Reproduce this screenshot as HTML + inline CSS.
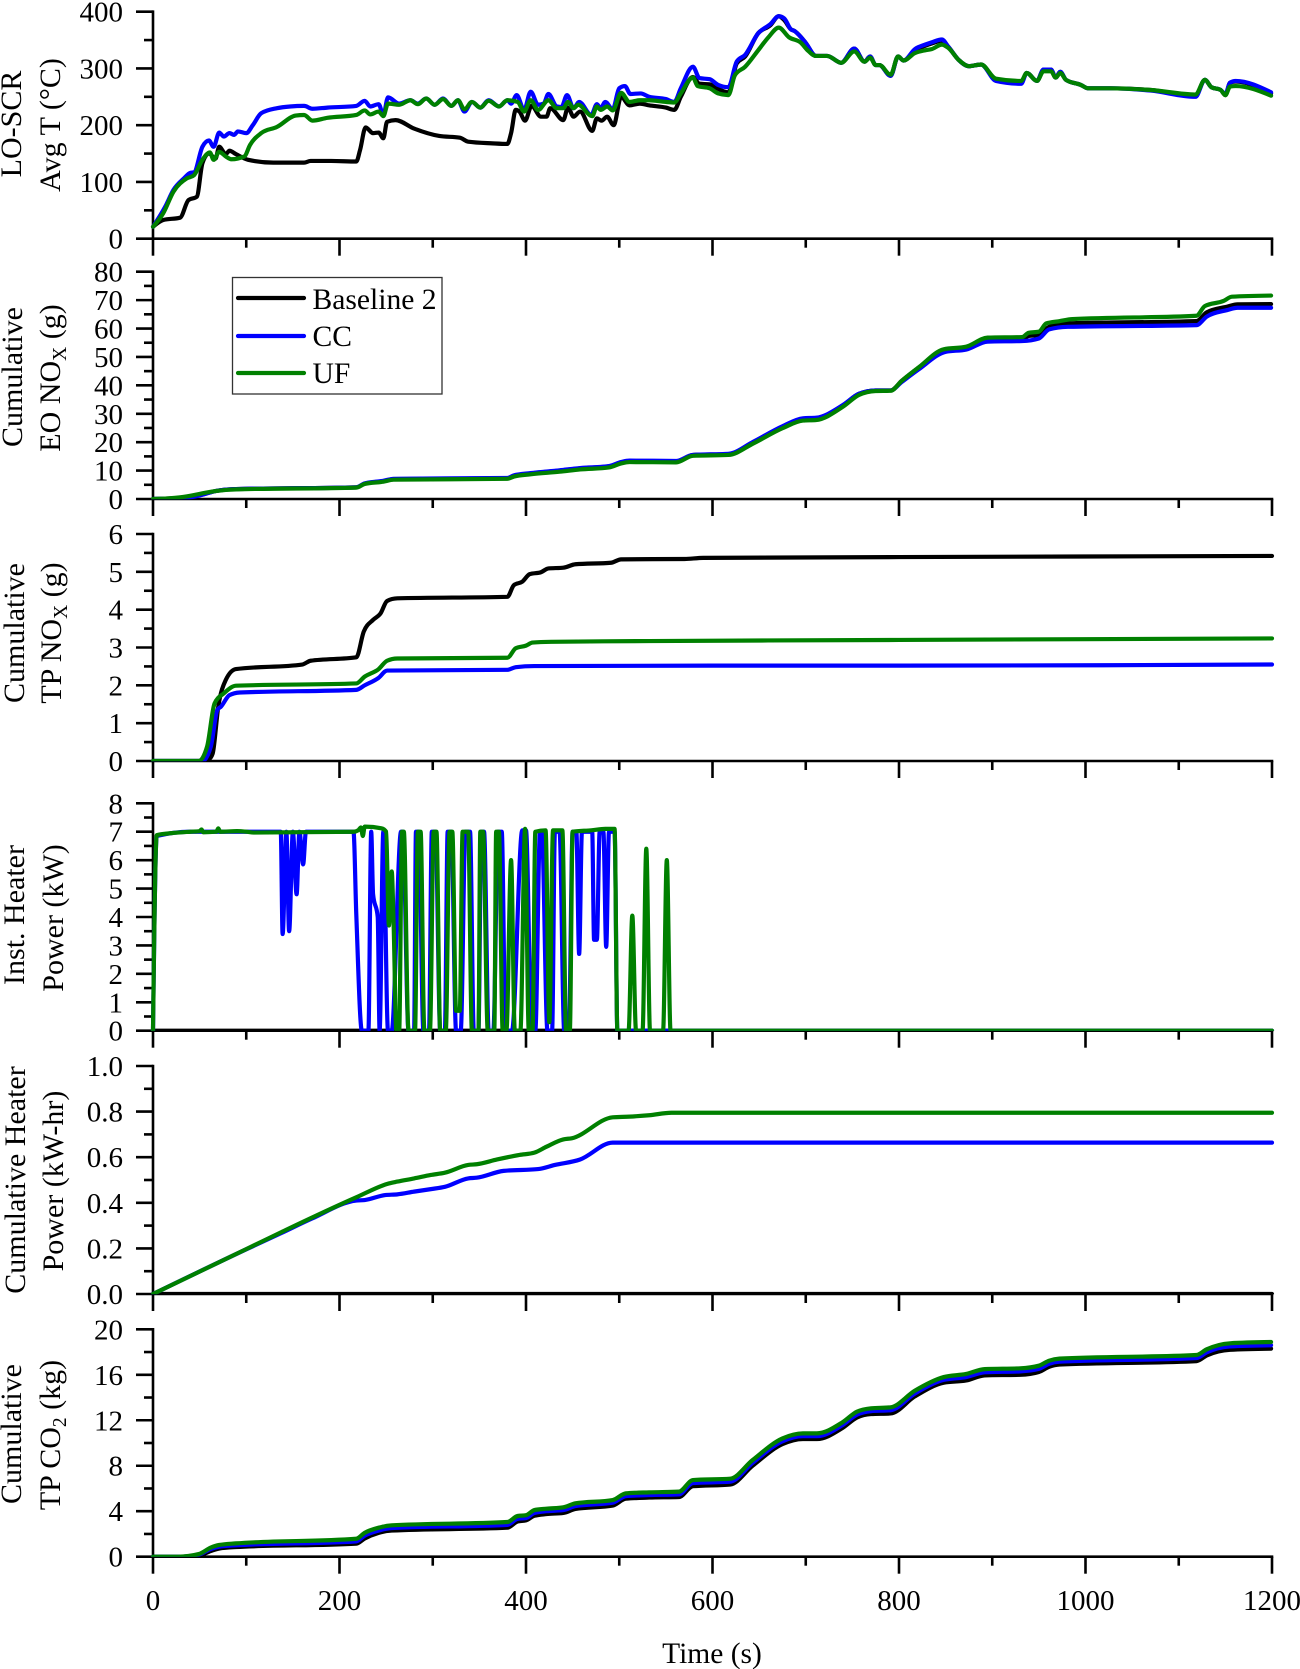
<!DOCTYPE html>
<html lang="en">
<head>
<meta charset="utf-8">
<title>Cumulative emissions and heater power over time</title>
<style>
html,body{margin:0;padding:0;background:#fff;}
svg{display:block;}
text{font-family:"Liberation Serif",serif;font-size:29px;fill:#000;}
g.titles text{font-size:30px;}
g.legend text{font-size:29.6px;}
</style>
</head>
<body>
<svg id="chart" xmlns="http://www.w3.org/2000/svg" width="1300" height="1669" viewBox="0 0 1300 1669">
  <rect x="0" y="0" width="1300" height="1669" fill="#fff"/>
  <defs id="clips"></defs>
  <g id="panels"></g>

  <g class="titles">
    <text text-anchor="middle" transform="translate(21 124) rotate(-90)">LO-SCR</text>
    <text text-anchor="middle" transform="translate(60 125) rotate(-90)">Avg T (°C)</text>
    <text text-anchor="middle" transform="translate(22 377) rotate(-90)">Cumulative</text>
    <text text-anchor="middle" transform="translate(60 378) rotate(-90)">EO NO<tspan style="font-size:19.5px" dy="6">X</tspan><tspan dy="-6"> (g)</tspan></text>
    <text text-anchor="middle" transform="translate(24 633) rotate(-90)">Cumulative</text>
    <text text-anchor="middle" transform="translate(61 633) rotate(-90)">TP NO<tspan style="font-size:19.5px" dy="6">X</tspan><tspan dy="-6"> (g)</tspan></text>
    <text text-anchor="middle" transform="translate(24 915) rotate(-90)">Inst. Heater</text>
    <text text-anchor="middle" transform="translate(63 918) rotate(-90)">Power (kW)</text>
    <text text-anchor="middle" transform="translate(25 1180) rotate(-90)">Cumulative Heater</text>
    <text text-anchor="middle" transform="translate(63 1181) rotate(-90)">Power (kW-hr)</text>
    <text text-anchor="middle" transform="translate(21 1434) rotate(-90)">Cumulative</text>
    <text text-anchor="middle" transform="translate(60 1435) rotate(-90)">TP CO<tspan style="font-size:19.5px" dy="6">2</tspan><tspan dy="-6"> (kg)</tspan></text>
  </g>

  <text x="712" y="1663" text-anchor="middle" style="font-size:29.5px">Time (s)</text>

  <g class="legend">
    <rect x="232.5" y="277.5" width="209.5" height="116.5" fill="#fff" stroke="#333" stroke-width="1.3"/>
    <line x1="238" y1="298" x2="304" y2="298" stroke="#000" stroke-width="4.2" stroke-linecap="round"/>
    <text x="312.5" y="309">Baseline 2</text>
    <line x1="238" y1="336" x2="304" y2="336" stroke="#0000ff" stroke-width="4.2" stroke-linecap="round"/>
    <text x="312.5" y="346">CC</text>
    <line x1="238" y1="373" x2="304" y2="373" stroke="#008000" stroke-width="4.2" stroke-linecap="round"/>
    <text x="312.5" y="383">UF</text>
  </g>
</svg>

<script>
// ---- shared axis values ----
const timeTicksMajor = [0, 200, 400, 600, 800, 1000, 1200];
const timeTicksMinor = [100, 300, 500, 700, 900, 1100];
const timeDomain = [0, 1200];

// ---- LO-SCR average temperature (deg C) : [time, value] ----
const loScrTicks = [0, 100, 200, 300, 400];
const loScrMinor = [50, 150, 250, 350];
const loScrLabels = ['0', '100', '200', '300', '400'];
const loScrBaseline = [[0,21],[11,33],[29,37],[38,68],[47,74],[53,133],[60,150],[67,141],[71,162],[78,149],[82,155],[89,149],[102,139],[129,134],[162,134],[169,137],[191,137],[218,136],[222,156],[228,196],[236,186],[242,187],[247,177],[251,206],[260,209],[280,194],[307,181],[329,178],[338,171],[364,168],[380,167],[384,186],[389,227],[393,224],[399,208],[406,234],[416,215],[422,215],[426,230],[440,209],[445,231],[451,215],[458,224],[471,190],[476,212],[481,208],[487,215],[494,200],[502,250],[511,235],[522,238],[532,235],[550,231],[559,227],[566,250],[579,285],[586,273],[597,272],[606,264],[617,258],[626,309],[635,321],[649,362],[662,376],[671,392],[677,385],[684,369],[688,366],[695,355],[700,345],[711,322],[723,322],[738,310],[752,335],[763,312],[769,321],[775,306],[779,306],[791,287],[799,321],[805,314],[817,332],[828,340],[835,344],[846,349],[853,338],[864,315],[875,304],[888,307],[904,280],[931,276],[937,292],[948,278],[955,298],[963,298],[968,284],[973,294],[979,280],[995,271],[1003,265],[1026,265],[1070,262],[1118,252],[1128,280],[1135,267],[1145,262],[1150,253],[1155,275],[1161,277],[1199,256]];
const loScrCc = [[0,21],[13,56],[22,86],[33,106],[40,116],[44,117],[53,162],[60,173],[65,162],[71,187],[76,180],[82,186],[87,183],[91,189],[100,186],[107,200],[116,221],[133,230],[147,233],[162,234],[171,229],[187,231],[218,234],[227,243],[233,233],[242,237],[247,218],[252,249],[264,238],[276,244],[284,238],[293,247],[302,236],[311,247],[320,234],[327,244],[334,224],[342,241],[351,231],[360,244],[371,233],[380,244],[384,238],[390,253],[398,227],[405,259],[413,236],[419,238],[424,255],[433,233],[438,232],[444,253],[451,230],[457,241],[470,218],[476,237],[480,230],[485,241],[493,228],[500,265],[506,269],[512,255],[523,256],[532,250],[550,246],[559,241],[566,265],[579,303],[586,283],[597,281],[606,271],[617,267],[626,312],[635,324],[649,362],[662,378],[671,392],[677,388],[684,369],[688,366],[695,355],[700,345],[711,322],[723,322],[738,310],[752,335],[763,312],[769,321],[775,306],[779,306],[791,287],[799,321],[805,314],[817,334],[828,342],[835,346],[846,351],[853,338],[864,315],[875,304],[888,307],[904,278],[931,273],[937,292],[948,278],[955,298],[963,298],[968,284],[973,294],[979,280],[995,271],[1003,265],[1026,265],[1070,261],[1118,250],[1128,280],[1135,267],[1145,262],[1150,255],[1155,275],[1161,278],[1199,258]];
const loScrUf = [[0,21],[11,45],[22,83],[36,106],[44,112],[53,139],[61,152],[65,139],[71,153],[78,145],[84,140],[98,145],[104,165],[116,186],[133,197],[153,217],[162,218],[171,208],[187,213],[218,218],[227,226],[233,219],[242,224],[247,216],[252,238],[264,236],[276,244],[284,237],[293,247],[302,236],[311,246],[320,234],[327,244],[334,228],[342,241],[351,231],[360,243],[371,233],[380,244],[391,241],[398,224],[405,244],[413,227],[424,244],[433,230],[440,230],[445,241],[451,230],[456,236],[471,216],[476,233],[480,227],[487,233],[493,226],[502,257],[511,241],[522,244],[532,244],[550,241],[559,240],[566,256],[579,284],[584,269],[597,265],[606,256],[617,253],[624,288],[635,303],[649,332],[660,355],[671,372],[682,355],[695,345],[702,332],[711,322],[723,322],[738,310],[752,330],[763,312],[769,319],[775,306],[779,306],[791,289],[799,321],[805,314],[817,327],[828,332],[835,334],[846,342],[853,336],[864,315],[875,304],[888,307],[904,282],[931,278],[937,292],[948,278],[955,295],[963,295],[968,284],[973,292],[979,280],[995,271],[1003,265],[1026,265],[1070,262],[1118,254],[1128,280],[1135,267],[1145,262],[1150,253],[1155,268],[1161,269],[1199,252]];

// ---- Cumulative EO NOx (g) ----
const eoNoxTicks = [0, 10, 20, 30, 40, 50, 60, 70, 80];
const eoNoxMinor = [5, 15, 25, 35, 45, 55, 65, 75];
const eoNoxLabels = ['0', '10', '20', '30', '40', '50', '60', '70', '80'];
const eoNoxBaseline = [[0,0],[29,0.4],[44,0.9],[53,1.6],[67,2.8],[89,3.5],[218,4.1],[227,5.4],[247,6.3],[258,7],[380,7.3],[387,8.2],[405,9],[436,10],[458,10.8],[489,11.5],[502,12.9],[511,13.4],[561,13.3],[579,15.5],[617,15.8],[644,19.9],[675,25.4],[697,28.2],[711,28.4],[740,33],[757,37],[775,38.2],[791,38.2],[803,41.6],[821,46.2],[848,52.3],[872,53.1],[895,55.8],[932,56],[939,57.4],[950,57.7],[961,60.6],[981,61.8],[1119,62.6],[1130,65.7],[1152,67.7],[1163,68.5],[1199,68.6]];
const eoNoxCc = [[0,0],[29,0.3],[44,0.8],[53,1.5],[67,2.8],[89,3.5],[218,4.1],[227,5.5],[247,6.4],[258,7.1],[380,7.4],[387,8.3],[405,9.1],[436,10.1],[458,10.9],[489,11.6],[502,13],[511,13.5],[561,13.4],[579,15.5],[617,15.9],[644,20.2],[675,25.6],[697,28.4],[711,28.6],[740,33.1],[757,37],[775,38.2],[791,38.2],[803,41.2],[821,45.6],[850,51.8],[872,52.6],[895,55.4],[932,55.6],[950,56.5],[961,59.7],[981,60.6],[1119,61.2],[1130,64.2],[1152,66.5],[1163,67.3],[1199,67.3]];
const eoNoxUf = [[0,0],[29,0.6],[44,1.4],[53,2],[67,2.8],[89,3.4],[218,4],[227,5.3],[247,6.1],[258,6.8],[380,7.1],[387,7.9],[405,8.7],[436,9.6],[458,10.4],[489,11.1],[502,12.5],[511,13],[561,12.9],[579,15.2],[617,15.5],[644,19.6],[675,24.9],[697,27.6],[711,27.8],[740,32.5],[757,36.6],[775,38],[791,38.1],[803,41.6],[821,46.3],[848,52.7],[872,53.6],[895,56.8],[932,57],[939,58.5],[950,58.9],[958,61.8],[972,62.6],[986,63.3],[1119,64.5],[1128,67.9],[1148,69.7],[1157,71.2],[1199,71.6]];

// ---- Cumulative TP NOx (g) ----
const tpNoxTicks = [0, 1, 2, 3, 4, 5, 6];
const tpNoxMinor = [0.5, 1.5, 2.5, 3.5, 4.5, 5.5];
const tpNoxLabels = ['0', '1', '2', '3', '4', '5', '6'];
const tpNoxBaseline = [[0,0],[53,0],[60,0.05],[64,0.2],[70,1.44],[78,2.14],[89,2.43],[160,2.55],[169,2.65],[218,2.74],[226,3.42],[236,3.73],[244,3.9],[251,4.23],[262,4.3],[380,4.34],[387,4.65],[396,4.74],[404,4.94],[416,4.99],[424,5.09],[440,5.11],[453,5.2],[491,5.24],[502,5.33],[570,5.34],[590,5.37],[800,5.39],[1200,5.42]];
const tpNoxCc = [[0,0],[53,0],[62,0.38],[69,1.35],[73,1.44],[82,1.74],[93,1.81],[218,1.88],[227,2],[242,2.2],[251,2.39],[380,2.41],[389,2.48],[409,2.51],[600,2.52],[800,2.52],[1200,2.55]];
const tpNoxUf = [[0,0],[49,0],[58,0.38],[66,1.52],[76,1.79],[89,1.99],[218,2.05],[227,2.23],[242,2.43],[251,2.65],[262,2.71],[380,2.73],[389,2.98],[400,3.05],[407,3.13],[427,3.15],[532,3.17],[800,3.2],[1200,3.24]];

// ---- Instantaneous heater power (kW) ----
const instPowerTicks = [0, 1, 2, 3, 4, 5, 6, 7, 8];
const instPowerMinor = [0.5, 1.5, 2.5, 3.5, 4.5, 5.5, 6.5, 7.5];
const instPowerLabels = ['0', '1', '2', '3', '4', '5', '6', '7', '8'];
const instPowerBaseline = [[0,0],[1200,0]];
const instPowerCc = [[0,0],[4,6.85],[40,7],[137,7],[139,3.4],[143,7],[146,3.5],[150,7],[154,4.8],[157,7],[161,5.85],[164,7],[215,7],[218,4.1],[224,0],[231,0],[234,7],[236,4.8],[241,4],[243,0],[247,7],[252,0],[256,0],[266,7],[268,7],[274,0],[280,0],[282,7],[285,7],[290,0],[296,0],[299,7],[303,7],[308,0],[313,0],[316,7],[320,7],[325,0],[330,0],[335,7],[340,7],[344,0],[349,0],[352,7],[355,7],[360,0],[365,0],[370,7],[374,7],[378,0],[385,0],[396,7.05],[400,7.05],[406,0],[410,0],[415,7],[417,7],[423,0],[428,0],[431,7],[436,7],[441,0],[446,0],[450,7],[454,7],[457,2.7],[460,7],[471,7],[473,3.2],[476,3.2],[479,7],[483,7],[486,2.95],[489,7],[495,7],[498,0],[1200,0]];
const instPowerUf = [[0,0],[4,6.88],[20,6.95],[40,7],[50,7.02],[52,7.08],[54,6.98],[68,7],[70,7.12],[72,7],[90,7.02],[100,7],[108,6.97],[215,7],[220,7.05],[223,7.15],[225,6.85],[227,7.18],[245,7.12],[250,7],[253,3.7],[256,5.6],[258,3.8],[261,0],[264,0],[267,7],[269,7],[274,0],[281,0],[284,7],[287,7],[291,0],[297,0],[301,7],[304,7],[308,0],[314,0],[318,7],[321,7],[325,0.7],[329,0.7],[332,7],[338,7],[342,0],[349,0],[351,7],[354,7],[359,0],[366,0],[368,7],[371,7],[375,0],[379,0],[384,6],[388,0],[394,0],[399,7.1],[403,0],[407,0],[410,7],[421,7.05],[425,0.3],[429,7.05],[439,7.05],[443,0],[447,0],[450,7],[470,7.05],[485,7.1],[495,7.1],[498,0],[510,0],[514,4.05],[518,0],[525,0],[529,6.4],[533,0],[547,0],[551,6],[555,0],[1200,0]];

// ---- Cumulative heater power (kW-hr) ----
const cumPowerTicks = [0, 0.2, 0.4, 0.6, 0.8, 1];
const cumPowerMinor = [0.1, 0.3, 0.5, 0.7, 0.9];
const cumPowerLabels = ['0.0', '0.2', '0.4', '0.6', '0.8', '1.0'];
const cumPowerBaseline = [[0,0],[1200,0]];
const cumPowerCc = [[0,0],[100,0.196],[138,0.268],[170,0.33],[218,0.41],[227,0.412],[249,0.434],[262,0.437],[280,0.449],[298,0.46],[313,0.47],[338,0.507],[347,0.51],[376,0.54],[413,0.548],[431,0.566],[458,0.59],[493,0.664],[1200,0.664]];
const cumPowerUf = [[0,0],[100,0.197],[138,0.272],[218,0.424],[253,0.485],[262,0.493],[280,0.507],[298,0.522],[313,0.532],[338,0.566],[347,0.569],[369,0.59],[393,0.61],[409,0.62],[422,0.646],[440,0.678],[449,0.683],[493,0.775],[511,0.778],[532,0.784],[556,0.795],[1200,0.795]];

// ---- Cumulative TP CO2 (kg) ----
const co2Ticks = [0, 4, 8, 12, 16, 20];
const co2Minor = [2, 6, 10, 14, 18];
const co2Labels = ['0', '4', '8', '12', '16', '20'];
const co2Baseline = [[0,0],[27,0],[49,0.1],[62,0.5],[71,0.72],[89,0.85],[218,1.15],[227,1.6],[242,2.1],[256,2.3],[380,2.55],[391,3.1],[400,3.2],[409,3.6],[422,3.75],[440,3.85],[453,4.2],[493,4.5],[507,5.1],[532,5.2],[564,5.25],[579,6.2],[619,6.35],[643,8],[675,9.9],[697,10.35],[712,10.35],[739,11.3],[755,12.25],[770,12.55],[791,12.6],[817,14.1],[848,15.3],[872,15.5],[892,15.95],[930,16],[950,16.25],[961,16.7],[972,16.9],[1119,17.2],[1130,17.7],[1155,18.2],[1199,18.3]];
const co2Cc = [[0,0],[27,0],[49,0.18],[62,0.68],[71,0.88],[89,1],[218,1.35],[227,1.85],[242,2.3],[256,2.52],[380,2.8],[391,3.33],[400,3.4],[409,3.85],[422,4],[440,4.1],[453,4.45],[493,4.75],[507,5.33],[532,5.42],[564,5.48],[579,6.48],[619,6.6],[643,8.25],[675,10.15],[697,10.6],[712,10.6],[739,11.55],[755,12.5],[770,12.8],[791,12.88],[817,14.35],[848,15.55],[872,15.8],[892,16.22],[930,16.3],[950,16.52],[961,16.97],[972,17.15],[1119,17.47],[1130,17.97],[1155,18.5],[1199,18.6]];
const co2Uf = [[0,0],[27,0],[49,0.23],[62,0.8],[71,1.03],[89,1.17],[218,1.58],[227,2.1],[242,2.55],[256,2.76],[380,3.05],[391,3.58],[400,3.65],[409,4.1],[422,4.22],[440,4.34],[453,4.69],[493,4.98],[507,5.57],[532,5.66],[564,5.72],[579,6.74],[619,6.86],[643,8.5],[675,10.4],[697,10.85],[712,10.85],[739,11.8],[755,12.76],[770,13.05],[791,13.14],[817,14.6],[848,15.8],[872,16.07],[892,16.5],[930,16.57],[950,16.8],[961,17.24],[972,17.42],[1119,17.74],[1130,18.24],[1155,18.77],[1199,18.88]];

// ---- layout (pixels) kept apart from the data ----
const plotLeft = 153;
const plotRight = 1272;
const majorTick = 17;
const minorTick = 9;
const seriesColors = ['#000000', '#0000ff', '#008000'];
const seriesNames = ['baseline-2', 'cc', 'uf'];

const panelDefs = [
  {key:'lo-scr-temp', top:11.7, bottom:238.7, max:400, ticks:loScrTicks, minor:loScrMinor, labels:loScrLabels, series:[loScrBaseline, loScrCc, loScrUf]},
  {key:'eo-nox', top:271.7, bottom:499, max:80, ticks:eoNoxTicks, minor:eoNoxMinor, labels:eoNoxLabels, series:[eoNoxBaseline, eoNoxCc, eoNoxUf]},
  {key:'tp-nox', top:534, bottom:761, max:6, ticks:tpNoxTicks, minor:tpNoxMinor, labels:tpNoxLabels, series:[tpNoxBaseline, tpNoxCc, tpNoxUf]},
  {key:'inst-power', top:803.3, bottom:1030.7, max:8, ticks:instPowerTicks, minor:instPowerMinor, labels:instPowerLabels, series:[instPowerBaseline, instPowerCc, instPowerUf]},
  {key:'cum-power', top:1066, bottom:1294, max:1, ticks:cumPowerTicks, minor:cumPowerMinor, labels:cumPowerLabels, series:[cumPowerBaseline, cumPowerCc, cumPowerUf]},
  {key:'tp-co2', top:1329.3, bottom:1556.7, max:20, ticks:co2Ticks, minor:co2Minor, labels:co2Labels, series:[co2Baseline, co2Cc, co2Uf]}
];

const NS = 'http://www.w3.org/2000/svg';
const panelsRoot = document.getElementById('panels');
const clipsRoot = document.getElementById('clips');

function make(tag, attrs, parent) {
  const node = document.createElementNS(NS, tag);
  for (const k in attrs) node.setAttribute(k, attrs[k]);
  parent.appendChild(node);
  return node;
}

function xScale(t) {
  return plotLeft + (t - timeDomain[0]) / (timeDomain[1] - timeDomain[0]) * (plotRight - plotLeft);
}

function yScaleFor(panel) {
  return function (v) {
    return panel.bottom - v / panel.max * (panel.bottom - panel.top);
  };
}

// Monotone cubic through the mapped points: rounds peaks and valleys without overshoot.
function smoothPath(px) {
  const n = px.length;
  const h = [], s = [], m = [];
  for (let i = 0; i < n - 1; i++) {
    h[i] = px[i + 1][0] - px[i][0];
    s[i] = (px[i + 1][1] - px[i][1]) / h[i];
  }
  for (let i = 1; i < n - 1; i++) {
    const p = (s[i - 1] * h[i] + s[i] * h[i - 1]) / (h[i - 1] + h[i]);
    m[i] = (Math.sign(s[i - 1]) + Math.sign(s[i])) * Math.min(Math.abs(s[i - 1]), Math.abs(s[i]), 0.5 * Math.abs(p));
  }
  m[0] = n > 2 ? (3 * s[0] - m[1]) / 2 : s[0];
  m[n - 1] = n > 2 ? (3 * s[n - 2] - m[n - 2]) / 2 : s[0];
  let d = 'M' + px[0][0].toFixed(2) + ' ' + px[0][1].toFixed(2);
  for (let i = 0; i < n - 1; i++) {
    const dx = h[i] / 3;
    d += 'C' + (px[i][0] + dx).toFixed(2) + ' ' + (px[i][1] + dx * m[i]).toFixed(2) + ' ' +
      (px[i + 1][0] - dx).toFixed(2) + ' ' + (px[i + 1][1] - dx * m[i + 1]).toFixed(2) + ' ' +
      px[i + 1][0].toFixed(2) + ' ' + px[i + 1][1].toFixed(2);
  }
  return d;
}

panelDefs.forEach(function (panel, panelIndex) {
  const y = yScaleFor(panel);

  const group = make('g', {}, panelsRoot);
  
  

  const clip = make('clipPath', {id: 'clip-' + panel.key}, clipsRoot);
  make('rect', {x: plotLeft - 4, y: panel.top - 12, width: plotRight - plotLeft + 8, height: panel.bottom - panel.top + 12.2}, clip);

  const yAxis = make('line', {x1: plotLeft, x2: plotLeft, y1: y(panel.max) - 1.3, y2: panel.bottom, stroke: '#000', 'stroke-width': 2.6}, group);
  
  

  const xAxis = make('line', {x1: plotLeft - 1.3, x2: plotRight + 1.3, y1: panel.bottom, y2: panel.bottom, stroke: '#000', 'stroke-width': 2.6}, group);
  
  

  panel.ticks.forEach(function (v, i) {
    const tick = make('line', {x1: plotLeft - majorTick, x2: plotLeft, y1: y(v), y2: y(v), stroke: '#000', 'stroke-width': 2.6}, group);
    
    

    const label = make('text', {x: 123, y: y(v) + 10, 'text-anchor': 'end'}, group);
    label.textContent = panel.labels[i];
    
    
  });

  panel.minor.forEach(function (v) {
    const tick = make('line', {x1: plotLeft - minorTick, x2: plotLeft, y1: y(v), y2: y(v), stroke: '#000', 'stroke-width': 2.6}, group);
    
    
  });

  timeTicksMajor.forEach(function (t) {
    const tick = make('line', {x1: xScale(t), x2: xScale(t), y1: panel.bottom, y2: panel.bottom + majorTick, stroke: '#000', 'stroke-width': 2.6}, group);
    
    

    if (panelIndex === panelDefs.length - 1) {
      const label = make('text', {x: xScale(t), y: 1610, 'text-anchor': 'middle'}, group);
      label.textContent = String(t);
      
      
    }
  });

  timeTicksMinor.forEach(function (t) {
    const tick = make('line', {x1: xScale(t), x2: xScale(t), y1: panel.bottom, y2: panel.bottom + minorTick, stroke: '#000', 'stroke-width': 2.6}, group);
    
    
  });

  panel.series.forEach(function (points, i) {
    const mapped = points.map(function (p) {
      return [xScale(p[0]), y(p[1])];
    });
    const path = make('path', {d: smoothPath(mapped), fill: 'none', stroke: seriesColors[i], 'stroke-width': 4.2, 'stroke-linejoin': 'round', 'stroke-linecap': 'round', 'clip-path': 'url(#clip-' + panel.key + ')'}, group);
    
    
  });
});
</script>
</body>
</html>
